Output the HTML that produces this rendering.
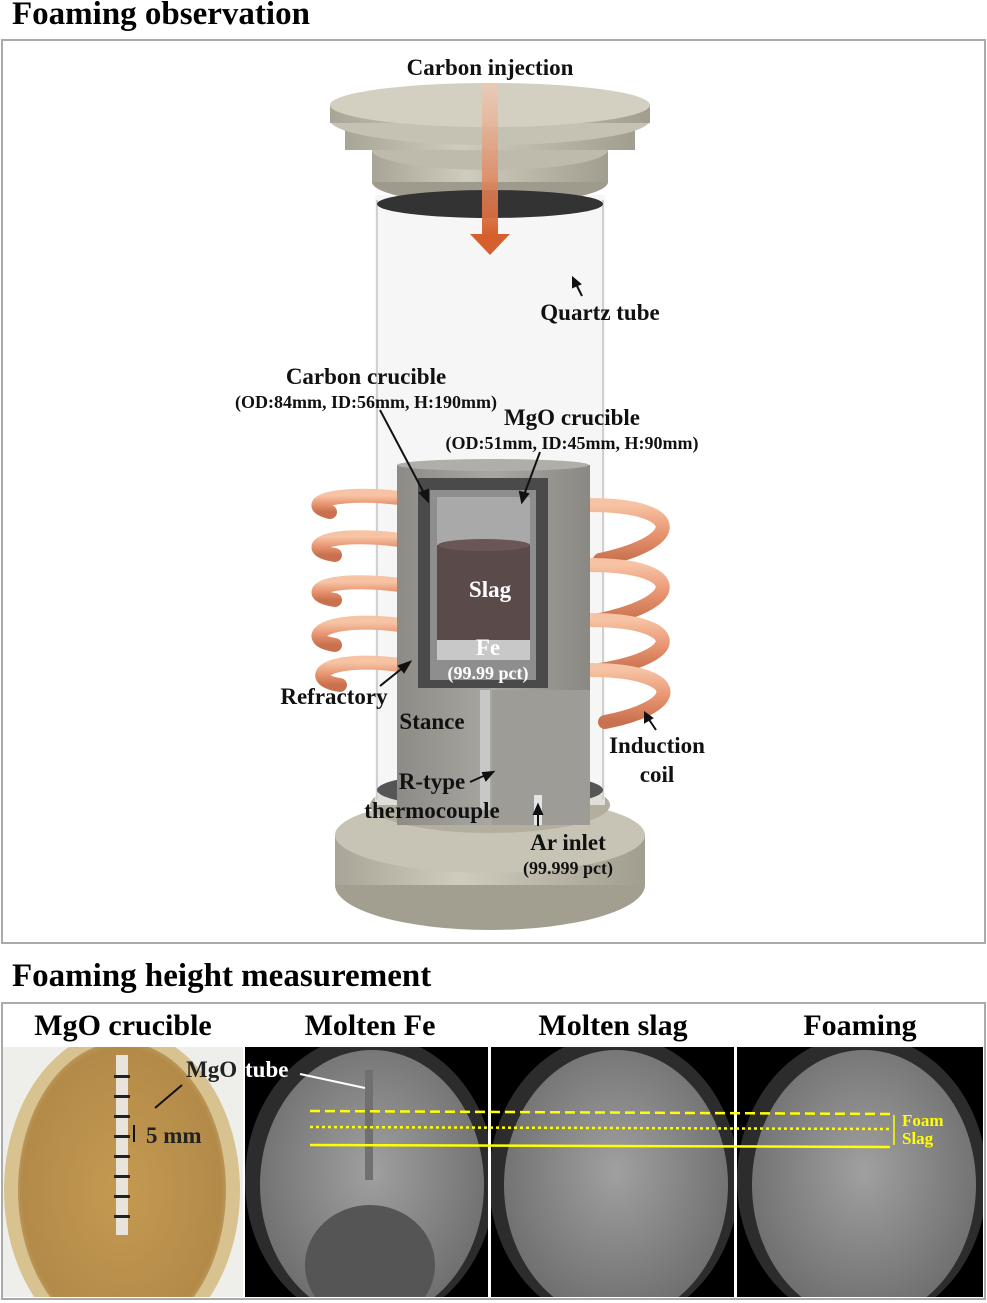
<!DOCTYPE html>
<html><head><meta charset="utf-8"><style>
body{margin:0;background:#fff;}
svg{display:block;font-family:"Liberation Serif",serif;}
</style></head><body>
<svg width="987" height="1303" viewBox="0 0 987 1303" xmlns="http://www.w3.org/2000/svg">
<defs>
<linearGradient id="cu" x1="0" y1="0" x2="0" y2="1"><stop offset="0" stop-color="#f6c3a4"/><stop offset="0.5" stop-color="#e99672"/><stop offset="1" stop-color="#c9714e"/></linearGradient>
<linearGradient id="ref" x1="0" y1="0" x2="1" y2="0"><stop offset="0" stop-color="#8d8b86"/><stop offset="0.5" stop-color="#a9a7a1"/><stop offset="1" stop-color="#8a8882"/></linearGradient>
<linearGradient id="fl" x1="0" y1="0" x2="1" y2="0"><stop offset="0" stop-color="#a9a596"/><stop offset="0.4" stop-color="#cfcbbd"/><stop offset="1" stop-color="#a29e8f"/></linearGradient>
<linearGradient id="ar" x1="0" y1="0" x2="0" y2="1"><stop offset="0" stop-color="#f5c8b0" stop-opacity="0.6"/><stop offset="1" stop-color="#d5602e"/></linearGradient>
<radialGradient id="cam" cx="0.5" cy="0.45" r="0.6"><stop offset="0" stop-color="#a0a0a0"/><stop offset="1" stop-color="#6a6a6a"/></radialGradient>
<radialGradient id="yel" cx="0.5" cy="0.5" r="0.6"><stop offset="0" stop-color="#c49a52"/><stop offset="0.8" stop-color="#b38a48"/><stop offset="1" stop-color="#e2d2a8"/></radialGradient>
<clipPath id="c1"><rect x="3" y="1047" width="240" height="250"/></clipPath>
<clipPath id="c2"><rect x="245" y="1047" width="244" height="250"/></clipPath>
<clipPath id="c3"><rect x="491" y="1047" width="244" height="250"/></clipPath>
<clipPath id="c4"><rect x="737" y="1047" width="246" height="250"/></clipPath>
</defs>
<text x="12" y="24" font-size="33" font-weight="bold">Foaming observation</text>
<rect x="2" y="40" width="983" height="903" fill="#fff" stroke="#aaa" stroke-width="2"/>

<!-- base -->
<ellipse cx="490" cy="885" rx="155" ry="45" fill="#a39f90"/>
<rect x="335" y="835" width="310" height="50" fill="url(#fl)"/>
<ellipse cx="490" cy="835" rx="155" ry="38" fill="#c8c4b5"/>
<ellipse cx="490" cy="805" rx="120" ry="28" fill="#b3af9f"/>
<!-- tube -->
<rect x="375" y="195" width="230" height="610" fill="#f2f2f2" opacity="0.7"/>
<line x1="377" y1="200" x2="377" y2="800" stroke="#d0d0d0" stroke-width="2"/>
<line x1="603" y1="200" x2="603" y2="800" stroke="#d0d0d0" stroke-width="2"/>
<ellipse cx="490" cy="790" rx="113" ry="18" fill="#555"/>
<!-- top flange -->
<ellipse cx="490" cy="182" rx="118" ry="22" fill="#9f9b8c"/>
<rect x="372" y="150" width="236" height="32" fill="url(#fl)"/>
<ellipse cx="490" cy="150" rx="118" ry="20" fill="#bfbbac"/>
<rect x="345" y="120" width="290" height="30" fill="url(#fl)"/>
<ellipse cx="490" cy="120" rx="160" ry="25" fill="#c6c2b3"/>
<rect x="330" y="105" width="320" height="18" fill="url(#fl)"/>
<ellipse cx="490" cy="105" rx="160" ry="22" fill="#d3cfc1"/>
<ellipse cx="490" cy="204" rx="113" ry="14" fill="#333"/>
<!-- arrow -->
<rect x="482" y="84" width="16" height="152" fill="url(#ar)"/>
<polygon points="470,234 510,234 490,255" fill="#d5602e"/>

<!-- coils -->
<g fill="none" stroke="url(#cu)" stroke-width="14" stroke-linecap="round">
<path d="M400,498 C330,490 300,505 330,512"/>
<path d="M400,540 C320,530 300,550 335,555"/>
<path d="M400,585 C320,575 300,595 335,600"/>
<path d="M400,625 C320,615 300,640 335,645"/>
<path d="M400,665 C320,655 305,680 340,685"/>
<path d="M590,505 C680,505 690,540 600,560"/>
<path d="M590,565 C680,565 690,600 600,620"/>
<path d="M590,620 C680,620 690,655 600,670"/>
<path d="M590,670 C680,670 690,705 605,722"/>
</g>
<!-- refractory & stance -->
<rect x="397" y="465" width="193" height="225" fill="url(#ref)"/>
<ellipse cx="493" cy="465" rx="96" ry="6" fill="#b0aea8"/>
<rect x="397" y="685" width="193" height="140" fill="url(#ref)"/>
<rect x="492" y="690" width="98" height="135" fill="#9e9c96"/>
<rect x="480" y="690" width="10" height="120" fill="#c8c8c8"/>
<rect x="534" y="795" width="8" height="30" fill="#e5e5e5"/>
<!-- crucibles -->
<rect x="418" y="478" width="130" height="210" fill="#4a4a4a"/>
<rect x="430" y="490" width="106" height="190" fill="#8e8e8e"/>
<rect x="437" y="497" width="93" height="163" fill="#a9a9a9"/>
<rect x="437" y="545" width="93" height="95" fill="#5a4a4a"/>
<ellipse cx="484" cy="545" rx="46" ry="6" fill="#6a5656"/>
<rect x="437" y="640" width="93" height="20" fill="#c8c8c8"/>
<!-- labels -->
<g font-weight="bold" font-size="23" fill="#111">
<text x="490" y="75" text-anchor="middle">Carbon injection</text>
<text x="600" y="320" text-anchor="middle">Quartz tube</text>
<text x="366" y="384" text-anchor="middle">Carbon crucible</text>
<text x="572" y="425" text-anchor="middle">MgO crucible</text>
<text x="490" y="597" text-anchor="middle" fill="#fff">Slag</text>
<text x="488" y="655" text-anchor="middle" fill="#fff">Fe</text>
<text x="334" y="704" text-anchor="middle">Refractory</text>
<text x="432" y="729" text-anchor="middle">Stance</text>
<text x="657" y="753" text-anchor="middle">Induction</text>
<text x="657" y="782" text-anchor="middle">coil</text>
<text x="432" y="789" text-anchor="middle">R-type</text>
<text x="432" y="818" text-anchor="middle">thermocouple</text>
<text x="568" y="850" text-anchor="middle">Ar inlet</text>
</g>
<g font-weight="bold" font-size="18" fill="#111">
<text x="366" y="408" text-anchor="middle">(OD:84mm, ID:56mm, H:190mm)</text>
<text x="572" y="449" text-anchor="middle">(OD:51mm, ID:45mm, H:90mm)</text>
<text x="488" y="679" text-anchor="middle" fill="#fff">(99.99 pct)</text>
<text x="568" y="874" text-anchor="middle">(99.999 pct)</text>
</g>
<g stroke="#111" stroke-width="2" fill="#111">
<line x1="582" y1="296" x2="576" y2="284"/><polygon points="573,278 580,284 573,287"/>
<line x1="380" y1="410" x2="425" y2="495"/><polygon points="428,501 420,493 428,490"/>
<line x1="540" y1="452" x2="524" y2="495"/><polygon points="522,502 520,492 528,494"/>
<line x1="380" y1="686" x2="405" y2="666"/><polygon points="410,662 404,672 399,666"/>
<line x1="656" y1="730" x2="648" y2="718"/><polygon points="645,713 652,718 645,722"/>
<line x1="470" y1="782" x2="488" y2="774"/><polygon points="493,772 486,780 483,773"/>
<line x1="538" y1="826" x2="538" y2="812"/><polygon points="538,805 542,814 534,814"/>
</g>

<text x="12" y="986" font-size="33" font-weight="bold">Foaming height measurement</text>
<rect x="2" y="1003" width="983" height="296" fill="#fff" stroke="#aaa" stroke-width="2"/>
<g font-size="30" font-weight="bold" text-anchor="middle">
<text x="123" y="1035">MgO crucible</text>
<text x="370" y="1035">Molten Fe</text>
<text x="613" y="1035">Molten slag</text>
<text x="860" y="1035">Foaming</text>
</g>
<!-- panel 1 -->
<g clip-path="url(#c1)">
<rect x="3" y="1047" width="240" height="250" fill="#eeeeea"/>
<ellipse cx="122" cy="1190" rx="118" ry="160" fill="#d8c290"/>
<ellipse cx="122" cy="1190" rx="104" ry="148" fill="url(#yel)"/>
<rect x="116" y="1055" width="12" height="180" fill="#e8e4dc"/>
<g fill="#222">
<rect x="114" y="1075" width="16" height="3"/><rect x="114" y="1095" width="16" height="3"/><rect x="114" y="1115" width="16" height="3"/><rect x="114" y="1135" width="16" height="3"/><rect x="114" y="1155" width="16" height="3"/><rect x="114" y="1175" width="16" height="3"/><rect x="114" y="1195" width="16" height="3"/><rect x="114" y="1215" width="16" height="3"/>
</g>
</g>
<g clip-path="url(#c2)">
<rect x="245" y="1047" width="244" height="250" fill="#000"/>
<ellipse cx="370" cy="1180" rx="125" ry="145" fill="#2c2c2c"/>
<ellipse cx="372" cy="1185" rx="112" ry="135" fill="url(#cam)"/>
<ellipse cx="370" cy="1265" rx="65" ry="60" fill="#555"/>
<rect x="365" y="1070" width="8" height="110" fill="#707070"/>
</g>
<g clip-path="url(#c3)">
<rect x="491" y="1047" width="244" height="250" fill="#000"/>
<ellipse cx="614" cy="1180" rx="125" ry="145" fill="#2c2c2c"/>
<ellipse cx="616" cy="1185" rx="112" ry="135" fill="url(#cam)"/>
</g>
<g clip-path="url(#c4)">
<rect x="737" y="1047" width="246" height="250" fill="#000"/>
<ellipse cx="862" cy="1180" rx="125" ry="145" fill="#2c2c2c"/>
<ellipse cx="864" cy="1185" rx="112" ry="135" fill="url(#cam)"/>
</g>
<line x1="489" y1="1047" x2="489" y2="1297" stroke="#fff" stroke-width="2"/>
<line x1="735" y1="1047" x2="735" y2="1297" stroke="#fff" stroke-width="2"/>
<!-- yellow lines -->
<g stroke="#ffff00" stroke-width="2.5">
<line x1="310" y1="1111" x2="890" y2="1114" stroke-dasharray="10,5"/>
<line x1="310" y1="1127" x2="890" y2="1129" stroke-dasharray="3,3"/>
<line x1="310" y1="1145" x2="890" y2="1147"/>
<line x1="894" y1="1115" x2="894" y2="1145" stroke-width="1.5"/>
</g>
<g font-weight="bold" font-size="17" fill="#ffff00"><text x="902" y="1126">Foam</text><text x="902" y="1144">Slag</text></g>
<g font-weight="bold" font-size="23">
<text x="186" y="1077" fill="#222">MgO</text><text x="245" y="1077" fill="#fff">tube</text>
<text x="146" y="1143" fill="#222">5 mm</text>
</g>
<line x1="300" y1="1074" x2="365" y2="1088" stroke="#fff" stroke-width="2"/>
<line x1="182" y1="1085" x2="155" y2="1108" stroke="#111" stroke-width="2"/>
<line x1="134" y1="1125" x2="134" y2="1142" stroke="#111" stroke-width="2"/>
</svg>
</body></html>
